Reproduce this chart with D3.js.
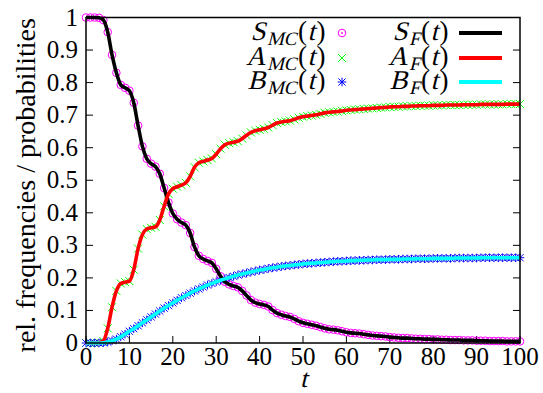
<!DOCTYPE html>
<html>
<head>
<meta charset="utf-8">
<script src="https://cdn.jsdelivr.net/npm/d3@7/dist/d3.min.js"></script>
<style>
  body { margin: 0; background: #fff; }
</style>
</head>
<body>
<div id="chart"></div>
<script>
// time grid (t = 0..100, step 1)
const tGrid = d3.range(0, 101);

// S(t)
const sValues = [
  1.000, 1.000, 1.000, 0.999, 0.992, 0.955, 0.885, 0.830, 0.793, 0.784,
  0.775, 0.738, 0.668, 0.604, 0.566, 0.551, 0.542, 0.520, 0.476, 0.432,
  0.398, 0.380, 0.370, 0.362, 0.338, 0.295, 0.268, 0.258, 0.252, 0.246,
  0.228, 0.205, 0.188, 0.180, 0.175, 0.171, 0.160, 0.146, 0.132, 0.124,
  0.120, 0.117, 0.112, 0.101, 0.092, 0.087, 0.083, 0.080, 0.074, 0.067,
  0.062, 0.059, 0.056, 0.053, 0.049, 0.045, 0.042, 0.041, 0.039, 0.036,
  0.033, 0.031, 0.030, 0.029, 0.027, 0.025, 0.023, 0.022, 0.021, 0.020,
  0.018, 0.017, 0.016, 0.015, 0.015, 0.014, 0.013, 0.013, 0.012, 0.012,
  0.011, 0.011, 0.010, 0.010, 0.009, 0.009, 0.009, 0.008, 0.008, 0.008,
  0.007, 0.007, 0.007, 0.006, 0.006, 0.006, 0.006, 0.005, 0.005, 0.005,
  0.005
];

// A(t)
const aValues = [
  0.000, 0.000, 0.000, 0.001, 0.006, 0.045, 0.110, 0.160, 0.183, 0.187,
  0.190, 0.225, 0.290, 0.333, 0.350, 0.354, 0.357, 0.378, 0.420, 0.458,
  0.474, 0.480, 0.485, 0.492, 0.512, 0.540, 0.554, 0.558, 0.562, 0.567,
  0.580, 0.597, 0.609, 0.614, 0.617, 0.620, 0.628, 0.638, 0.647, 0.652,
  0.655, 0.658, 0.662, 0.669, 0.676, 0.679, 0.681, 0.683, 0.687, 0.692,
  0.695, 0.697, 0.699, 0.701, 0.704, 0.707, 0.709, 0.710, 0.711, 0.713,
  0.715, 0.716, 0.717, 0.718, 0.719, 0.720, 0.721, 0.722, 0.723, 0.724,
  0.725, 0.726, 0.726, 0.727, 0.727, 0.728, 0.728, 0.729, 0.729, 0.729,
  0.730, 0.730, 0.730, 0.731, 0.731, 0.731, 0.731, 0.732, 0.732, 0.732,
  0.732, 0.733, 0.733, 0.733, 0.733, 0.733, 0.733, 0.734, 0.734, 0.734,
  0.734
];

// B(t)
const bValues = [
  0.000, 0.000, 0.000, 0.000, 0.001, 0.003, 0.007, 0.012, 0.019, 0.027,
  0.036, 0.044, 0.053, 0.062, 0.071, 0.080, 0.089, 0.098, 0.107, 0.115,
  0.123, 0.131, 0.139, 0.146, 0.153, 0.160, 0.166, 0.172, 0.178, 0.183,
  0.188, 0.193, 0.197, 0.201, 0.205, 0.209, 0.212, 0.215, 0.218, 0.221,
  0.224, 0.226, 0.229, 0.231, 0.233, 0.235, 0.237, 0.238, 0.240, 0.241,
  0.243, 0.244, 0.245, 0.246, 0.247, 0.248, 0.249, 0.250, 0.251, 0.251,
  0.252, 0.253, 0.253, 0.254, 0.254, 0.255, 0.255, 0.256, 0.256, 0.256,
  0.257, 0.257, 0.257, 0.258, 0.258, 0.258, 0.259, 0.259, 0.259, 0.259,
  0.260, 0.260, 0.260, 0.260, 0.260, 0.261, 0.261, 0.261, 0.261, 0.261,
  0.261, 0.262, 0.262, 0.262, 0.262, 0.262, 0.262, 0.262, 0.262, 0.262,
  0.262
];

const xTicks = [0, 10, 20, 30, 40, 50, 60, 70, 80, 90, 100];
const yTicks = [0, 0.1, 0.2, 0.3, 0.4, 0.5, 0.6, 0.7, 0.8, 0.9, 1];
const yTickLabels = ["0", "0.1", "0.2", "0.3", "0.4", "0.5", "0.6", "0.7", "0.8", "0.9", "1"];

const width = 543, height = 393;
const margin = { left: 86, right: 23, top: 17.5, bottom: 50 };
const serif = '"Liberation Serif"';

const svg = d3.select("#chart").append("svg")
  .attr("width", width)
  .attr("height", height);

const x = d3.scaleLinear().domain([0, 100]).range([margin.left, width - margin.right]);
const y = d3.scaleLinear().domain([0, 1]).range([height - margin.bottom, margin.top]);

// ticks (inward), left/right mirrored, bottom only
const axisG = svg.append("g");
axisG.selectAll(".yt").data(yTicks).enter().append("line")
  .attr("x1", x(0)).attr("x2", x(0) + 7)
  .attr("y1", d => y(d)).attr("y2", d => y(d))
  .attr("stroke", "#000").attr("stroke-width", 1);
axisG.selectAll(".yt2").data(yTicks).enter().append("line")
  .attr("x1", x(100)).attr("x2", x(100) - 7)
  .attr("y1", d => y(d)).attr("y2", d => y(d))
  .attr("stroke", "#000").attr("stroke-width", 1);
axisG.selectAll(".xt").data(xTicks).enter().append("line")
  .attr("x1", d => x(d)).attr("x2", d => x(d))
  .attr("y1", y(0)).attr("y2", y(0) - 7)
  .attr("stroke", "#000").attr("stroke-width", 1);

// tick labels
svg.selectAll(".ylab").data(yTicks).enter().append("text")
  .attr("x", x(0) - 8)
  .attr("y", d => y(d) + 8)
  .attr("text-anchor", "end")
  .style("font-family", serif)
  .style("font-size", "25px")
  .text((d, i) => yTickLabels[i]);

svg.selectAll(".xlab").data(xTicks).enter().append("text")
  .attr("x", d => x(d))
  .attr("y", 365)
  .attr("text-anchor", "middle")
  .style("font-family", serif)
  .style("font-size", "25px")
  .text(d => d);

// axis titles
svg.append("text")
  .attr("transform", `translate(35, ${(y(0) + y(1)) / 2 + 5}) rotate(-90)`)
  .attr("text-anchor", "middle")
  .style("font-family", serif)
  .style("font-size", "28px")
  .text("rel. frequencies / probabilities");

// no serif italic face is installed, so slant the upright face
svg.append("text")
  .attr("transform", `translate(${(x(0) + x(100)) / 2 - 3}, 387) skewX(-14)`)
  .style("font-family", serif)
  .style("font-size", "26px")
  .text("t");

// MC markers
const circleSym = "M3.8,0A3.8,3.8 0 1,1 -3.8,0A3.8,3.8 0 1,1 3.8,0";
const crossSym = "M-4,-4L4,4M-4,4L4,-4";
const starSym = "M-3.6,-3.6L3.6,3.6M-3.6,3.6L3.6,-3.6M0,-4.3L0,4.3M-4.3,0L4.3,0";

const series = [
  { name: "S", values: sValues, mcColor: "#ff00ff", fColor: "#000000", sym: circleSym },
  { name: "A", values: aValues, mcColor: "#00ff00", fColor: "#ff0000", sym: crossSym },
  { name: "B", values: bValues, mcColor: "#0000ff", fColor: "#00ffff", sym: starSym }
];

series.forEach(s => {
  svg.append("g").selectAll("path")
    .data(tGrid)
    .enter().append("path")
    .attr("d", s.sym)
    .attr("transform", (d, i) => `translate(${x(d)},${y(s.values[i])})`)
    .attr("fill", "none")
    .attr("stroke", s.mcColor)
    .attr("stroke-width", 1);
});

// fitted curves
const line = d3.line()
  .x((d, i) => x(tGrid[i]))
  .y(d => y(d))
  .curve(d3.curveMonotoneX);

series.forEach(s => {
  svg.append("path")
    .attr("d", line(s.values))
    .attr("fill", "none")
    .attr("stroke", s.fColor)
    .attr("stroke-width", 3.6)
    .attr("stroke-linejoin", "round");
});

// frame
svg.append("rect")
  .attr("x", x(0)).attr("y", y(1))
  .attr("width", x(100) - x(0)).attr("height", y(0) - y(1))
  .attr("fill", "none")
  .attr("stroke", "#000")
  .attr("stroke-width", 1.5);

// legend: math labels built piece by piece, right aligned at rx
function mathLabel(g, rx, baseline, base, sub) {
  const parts = [
    { text: base, italic: true, size: 27, dy: 0 },
    { text: sub, italic: true, size: 19, dy: 5 },
    { text: "(", italic: false, size: 27, dy: 0 },
    { text: "t", italic: true, size: 27, dy: 0 },
    { text: ")", italic: false, size: 27, dy: 0 }
  ];
  const lg = g.append("g");
  let cursor = 0;
  parts.forEach(p => {
    const t = lg.append("text")
      .attr("transform", `translate(${cursor},${p.dy})` + (p.italic ? " skewX(-14)" : ""))
      .style("font-family", serif)
      .style("font-size", p.size + "px")
      .text(p.text);
    cursor += t.node().getComputedTextLength() + (p.italic ? 1.5 : 0.5);
  });
  lg.attr("transform", `translate(${rx - cursor},${baseline})`);
}

const legendRows = [33, 58, 82];
const legend = svg.append("g");
series.forEach((s, i) => {
  const ry = legendRows[i];
  mathLabel(legend, 326, ry + 7, s.name, "MC");
  legend.append("path")
    .attr("d", s.sym)
    .attr("transform", `translate(342,${ry})`)
    .attr("fill", "none")
    .attr("stroke", s.mcColor)
    .attr("stroke-width", 1);
  if (i === 0) {
    legend.append("circle").attr("cx", 342).attr("cy", ry).attr("r", 0.9).attr("fill", s.mcColor);
  }
  mathLabel(legend, 449, ry + 7, s.name, "F");
  legend.append("line")
    .attr("x1", 459).attr("x2", 502)
    .attr("y1", ry).attr("y2", ry)
    .attr("stroke", s.fColor)
    .attr("stroke-width", 4);
});
</script>
</body>
</html>
